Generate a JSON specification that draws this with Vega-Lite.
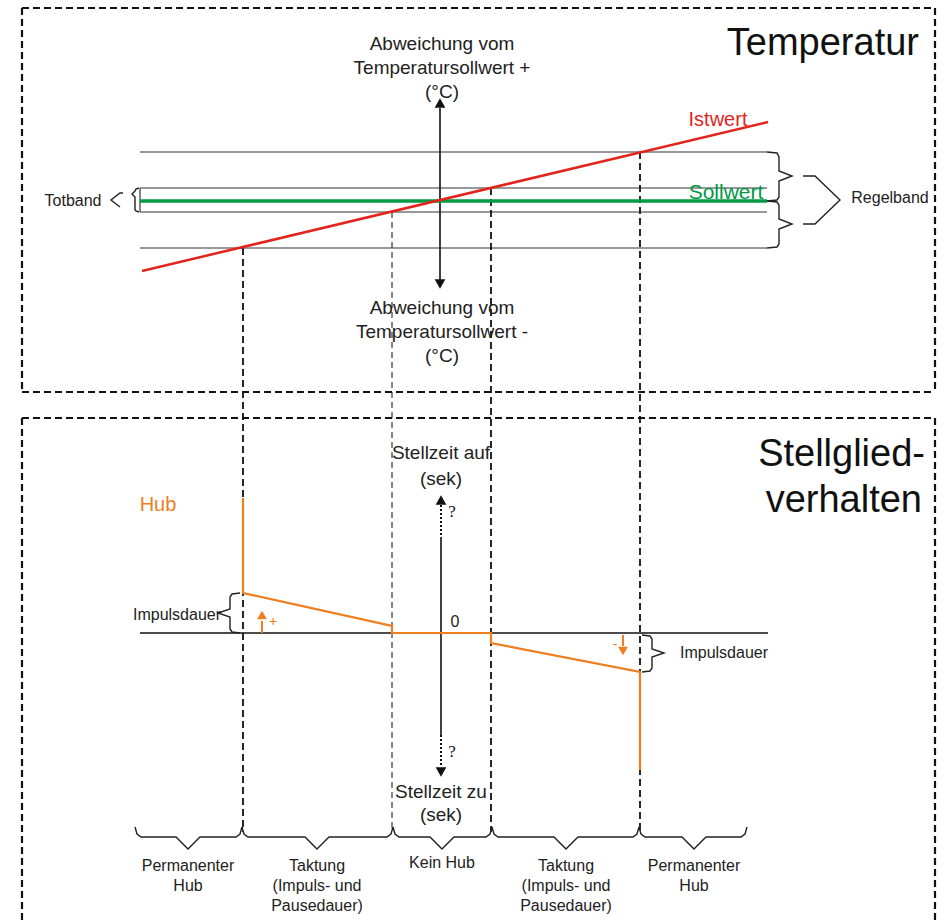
{
  "$schema": "https://vega.github.io/schema/vega-lite/v6.json",
  "width": 946,
  "height": 920,
  "autosize": {"type": "none"},
  "padding": 0,
  "background": "white",
  "view": {"stroke": null},
  "config": {"font": "Liberation Sans"},
  "datasets": {
    "frame": [
      {"x": 22, "y": 8, "x2": 935, "y2": 8},
      {"x": 22, "y": 392, "x2": 935, "y2": 392},
      {"x": 22, "y": 8, "x2": 22, "y2": 392},
      {"x": 935, "y": 8, "x2": 935, "y2": 392},
      {"x": 22, "y": 418, "x2": 935, "y2": 418},
      {"x": 22, "y": 418, "x2": 22, "y2": 920},
      {"x": 935, "y": 418, "x2": 935, "y2": 920}
    ],
    "thin": [
      {"x": 140, "y": 152, "x2": 767, "y2": 152},
      {"x": 140, "y": 188, "x2": 767, "y2": 188},
      {"x": 140, "y": 212, "x2": 767, "y2": 212},
      {"x": 140, "y": 248, "x2": 767, "y2": 248},
      {"x": 140, "y": 188, "x2": 140, "y2": 212}
    ],
    "axes": [
      {"x": 140, "y": 633, "x2": 768, "y2": 633},
      {"x": 440, "y": 108, "x2": 440, "y2": 280},
      {"x": 441, "y": 537, "x2": 441, "y2": 735}
    ],
    "guidesThick": [
      {"x": 243, "y": 248, "x2": 243, "y2": 832},
      {"x": 491, "y": 188, "x2": 491, "y2": 832},
      {"x": 640, "y": 152, "x2": 640, "y2": 832}
    ],
    "guidesThin": [
      {"x": 392, "y": 212, "x2": 392, "y2": 832}
    ],
    "dotted": [
      {"x": 441, "y": 505, "x2": 441, "y2": 537},
      {"x": 441, "y": 735, "x2": 441, "y2": 767}
    ],
    "red": [{"x": 142, "y": 271, "x2": 768, "y2": 122}],
    "green": [{"x": 140, "y": 201, "x2": 767, "y2": 201}],
    "hub": [
      {"o": 1, "x": 243, "y": 498},
      {"o": 2, "x": 243, "y": 593},
      {"o": 3, "x": 392, "y": 626},
      {"o": 4, "x": 392, "y": 633},
      {"o": 5, "x": 491, "y": 633},
      {"o": 6, "x": 491, "y": 643},
      {"o": 7, "x": 640, "y": 672},
      {"o": 8, "x": 640, "y": 770}
    ],
    "orangeShafts": [
      {"x": 262, "y": 621, "x2": 262, "y2": 633},
      {"x": 623, "y": 635, "x2": 623, "y2": 646}
    ],
    "orangeHeads": [
      {"x": 262, "y": 615, "dir": "up"},
      {"x": 623, "y": 651, "dir": "down"}
    ],
    "blackHeads": [
      {"x": 440, "y": 103, "dir": "up"},
      {"x": 440, "y": 284, "dir": "down"},
      {"x": 441, "y": 500, "dir": "up"},
      {"x": 441, "y": 772, "dir": "down"}
    ],
    "braces": [
      {"id": "tb", "o": 1, "x": 139, "y": 188},
      {"id": "tb", "o": 2, "x": 136, "y": 189},
      {"id": "tb", "o": 3, "x": 135, "y": 191},
      {"id": "tb", "o": 4, "x": 132, "y": 194},
      {"id": "tb", "o": 5, "x": 135, "y": 197},
      {"id": "tb", "o": 6, "x": 135, "y": 210},
      {"id": "tb", "o": 7, "x": 136, "y": 211},
      {"id": "tb", "o": 8, "x": 139, "y": 212},
      {"id": "lt", "o": 1, "x": 123, "y": 193},
      {"id": "lt", "o": 2, "x": 120, "y": 193},
      {"id": "lt", "o": 3, "x": 111, "y": 200},
      {"id": "lt", "o": 4, "x": 120, "y": 207},
      {"id": "ru", "o": 1, "x": 767, "y": 152},
      {"id": "ru", "o": 2, "x": 777, "y": 153},
      {"id": "ru", "o": 3, "x": 779, "y": 157},
      {"id": "ru", "o": 4, "x": 779, "y": 171},
      {"id": "ru", "o": 5, "x": 792, "y": 176},
      {"id": "ru", "o": 6, "x": 779, "y": 181},
      {"id": "ru", "o": 7, "x": 779, "y": 197},
      {"id": "ru", "o": 8, "x": 777, "y": 200},
      {"id": "ru", "o": 9, "x": 767, "y": 201},
      {"id": "rl", "o": 1, "x": 767, "y": 201},
      {"id": "rl", "o": 2, "x": 777, "y": 202},
      {"id": "rl", "o": 3, "x": 779, "y": 205},
      {"id": "rl", "o": 4, "x": 779, "y": 219},
      {"id": "rl", "o": 5, "x": 792, "y": 224},
      {"id": "rl", "o": 6, "x": 779, "y": 229},
      {"id": "rl", "o": 7, "x": 779, "y": 244},
      {"id": "rl", "o": 8, "x": 777, "y": 247},
      {"id": "rl", "o": 9, "x": 767, "y": 248},
      {"id": "rg", "o": 1, "x": 803, "y": 176},
      {"id": "rg", "o": 2, "x": 815, "y": 176},
      {"id": "rg", "o": 3, "x": 840, "y": 200},
      {"id": "rg", "o": 4, "x": 815, "y": 224},
      {"id": "rg", "o": 5, "x": 803, "y": 224},
      {"id": "il", "o": 1, "x": 240, "y": 593},
      {"id": "il", "o": 2, "x": 232, "y": 594},
      {"id": "il", "o": 3, "x": 230, "y": 597},
      {"id": "il", "o": 4, "x": 230, "y": 609},
      {"id": "il", "o": 5, "x": 218, "y": 613},
      {"id": "il", "o": 6, "x": 230, "y": 617},
      {"id": "il", "o": 7, "x": 230, "y": 629},
      {"id": "il", "o": 8, "x": 232, "y": 632},
      {"id": "il", "o": 9, "x": 240, "y": 633},
      {"id": "ir", "o": 1, "x": 642, "y": 635},
      {"id": "ir", "o": 2, "x": 650, "y": 636},
      {"id": "ir", "o": 3, "x": 652, "y": 639},
      {"id": "ir", "o": 4, "x": 652, "y": 649},
      {"id": "ir", "o": 5, "x": 664, "y": 653},
      {"id": "ir", "o": 6, "x": 652, "y": 657},
      {"id": "ir", "o": 7, "x": 652, "y": 668},
      {"id": "ir", "o": 8, "x": 650, "y": 671},
      {"id": "ir", "o": 9, "x": 642, "y": 672},
      {"id": "b1", "o": 1, "x": 135, "y": 827},
      {"id": "b1", "o": 2, "x": 137, "y": 834},
      {"id": "b1", "o": 3, "x": 141, "y": 837},
      {"id": "b1", "o": 4, "x": 176, "y": 837},
      {"id": "b1", "o": 5, "x": 188, "y": 849},
      {"id": "b1", "o": 6, "x": 200, "y": 837},
      {"id": "b1", "o": 7, "x": 236, "y": 837},
      {"id": "b1", "o": 8, "x": 240, "y": 834},
      {"id": "b1", "o": 9, "x": 242, "y": 827},
      {"id": "b2", "o": 1, "x": 242, "y": 827},
      {"id": "b2", "o": 2, "x": 244, "y": 834},
      {"id": "b2", "o": 3, "x": 248, "y": 837},
      {"id": "b2", "o": 4, "x": 305, "y": 837},
      {"id": "b2", "o": 5, "x": 317, "y": 849},
      {"id": "b2", "o": 6, "x": 329, "y": 837},
      {"id": "b2", "o": 7, "x": 387, "y": 837},
      {"id": "b2", "o": 8, "x": 391, "y": 834},
      {"id": "b2", "o": 9, "x": 393, "y": 827},
      {"id": "b3", "o": 1, "x": 393, "y": 827},
      {"id": "b3", "o": 2, "x": 395, "y": 834},
      {"id": "b3", "o": 3, "x": 399, "y": 837},
      {"id": "b3", "o": 4, "x": 430, "y": 837},
      {"id": "b3", "o": 5, "x": 442, "y": 849},
      {"id": "b3", "o": 6, "x": 454, "y": 837},
      {"id": "b3", "o": 7, "x": 486, "y": 837},
      {"id": "b3", "o": 8, "x": 490, "y": 834},
      {"id": "b3", "o": 9, "x": 492, "y": 827},
      {"id": "b4", "o": 1, "x": 492, "y": 827},
      {"id": "b4", "o": 2, "x": 494, "y": 834},
      {"id": "b4", "o": 3, "x": 498, "y": 837},
      {"id": "b4", "o": 4, "x": 554, "y": 837},
      {"id": "b4", "o": 5, "x": 566, "y": 849},
      {"id": "b4", "o": 6, "x": 578, "y": 837},
      {"id": "b4", "o": 7, "x": 633, "y": 837},
      {"id": "b4", "o": 8, "x": 637, "y": 834},
      {"id": "b4", "o": 9, "x": 639, "y": 827},
      {"id": "b5", "o": 1, "x": 639, "y": 827},
      {"id": "b5", "o": 2, "x": 641, "y": 834},
      {"id": "b5", "o": 3, "x": 645, "y": 837},
      {"id": "b5", "o": 4, "x": 682, "y": 837},
      {"id": "b5", "o": 5, "x": 694, "y": 849},
      {"id": "b5", "o": 6, "x": 706, "y": 837},
      {"id": "b5", "o": 7, "x": 741, "y": 837},
      {"id": "b5", "o": 8, "x": 745, "y": 834},
      {"id": "b5", "o": 9, "x": 747, "y": 827}
    ],
    "textMid": [
      {"t": "Abweichung vom", "x": 442, "y": 44},
      {"t": "Temperatursollwert +", "x": 442, "y": 68},
      {"t": "(°C)", "x": 442, "y": 92},
      {"t": "Abweichung vom", "x": 442, "y": 308},
      {"t": "Temperatursollwert -", "x": 442, "y": 332},
      {"t": "(°C)", "x": 442, "y": 356},
      {"t": "Stellzeit auf", "x": 441, "y": 453},
      {"t": "(sek)", "x": 441, "y": 479},
      {"t": "Stellzeit zu", "x": 441, "y": 792},
      {"t": "(sek)", "x": 441, "y": 815}
    ],
    "textSmall": [
      {"t": "Totband", "x": 73, "y": 201},
      {"t": "Regelband", "x": 890, "y": 198},
      {"t": "Impulsdauer", "x": 177, "y": 615},
      {"t": "Impulsdauer", "x": 724, "y": 653},
      {"t": "0", "x": 455, "y": 622},
      {"t": "Permanenter", "x": 188, "y": 866},
      {"t": "Hub", "x": 188, "y": 886},
      {"t": "Taktung", "x": 317, "y": 866},
      {"t": "(Impuls- und", "x": 317, "y": 886},
      {"t": "Pausedauer)", "x": 317, "y": 906},
      {"t": "Kein Hub", "x": 442, "y": 863},
      {"t": "Taktung", "x": 566, "y": 866},
      {"t": "(Impuls- und", "x": 566, "y": 886},
      {"t": "Pausedauer)", "x": 566, "y": 906},
      {"t": "Permanenter", "x": 694, "y": 866},
      {"t": "Hub", "x": 694, "y": 886}
    ],
    "titles": [
      {"t": "Temperatur", "x": 919, "y": 55},
      {"t": "Stellglied-", "x": 925, "y": 466},
      {"t": "verhalten", "x": 922, "y": 512}
    ],
    "qmarks": [
      {"t": "?", "x": 452, "y": 512},
      {"t": "?", "x": 452, "y": 752}
    ],
    "ist": [{"t": "Istwert", "x": 718, "y": 120}],
    "soll": [{"t": "Sollwert", "x": 726, "y": 193}],
    "hubLabel": [{"t": "Hub", "x": 158, "y": 505}],
    "signs": [
      {"t": "+", "x": 273, "y": 622},
      {"t": "-", "x": 615, "y": 645}
    ]
  },
  "encoding": {
    "x": {"field": "x", "type": "quantitative", "scale": {"domain": [0, 946], "nice": false, "zero": false}, "axis": null},
    "y": {"field": "y", "type": "quantitative", "scale": {"domain": [0, 920], "nice": false, "zero": false, "reverse": true}, "axis": null}
  },
  "layer": [
    {"data": {"name": "frame"}, "mark": {"type": "rule", "color": "#111", "strokeWidth": 2.2, "strokeDash": [7, 4]}, "encoding": {"x2": {"field": "x2"}, "y2": {"field": "y2"}}},
    {"data": {"name": "thin"}, "mark": {"type": "rule", "color": "#333", "strokeWidth": 1.2}, "encoding": {"x2": {"field": "x2"}, "y2": {"field": "y2"}}},
    {"data": {"name": "guidesThick"}, "mark": {"type": "rule", "color": "#111", "strokeWidth": 1.8, "strokeDash": [7, 4]}, "encoding": {"x2": {"field": "x2"}, "y2": {"field": "y2"}}},
    {"data": {"name": "guidesThin"}, "mark": {"type": "rule", "color": "#111", "strokeWidth": 1, "strokeDash": [6, 4]}, "encoding": {"x2": {"field": "x2"}, "y2": {"field": "y2"}}},
    {"data": {"name": "dotted"}, "mark": {"type": "rule", "color": "#111", "strokeWidth": 2, "strokeDash": [2, 2]}, "encoding": {"x2": {"field": "x2"}, "y2": {"field": "y2"}}},
    {"data": {"name": "axes"}, "mark": {"type": "rule", "color": "#111", "strokeWidth": 1.6}, "encoding": {"x2": {"field": "x2"}, "y2": {"field": "y2"}}},
    {"data": {"name": "green"}, "mark": {"type": "rule", "color": "#009a44", "strokeWidth": 3.5}, "encoding": {"x2": {"field": "x2"}, "y2": {"field": "y2"}}},
    {"data": {"name": "red"}, "mark": {"type": "rule", "color": "#e2241c", "strokeWidth": 2.5}, "encoding": {"x2": {"field": "x2"}, "y2": {"field": "y2"}}},
    {"data": {"name": "braces"}, "mark": {"type": "line", "color": "#222", "strokeWidth": 1.4, "interpolate": "linear"}, "encoding": {"detail": {"field": "id"}, "order": {"field": "o", "type": "quantitative"}}},
    {"data": {"name": "hub"}, "mark": {"type": "line", "color": "#f07d1e", "strokeWidth": 2.2}, "encoding": {"order": {"field": "o", "type": "quantitative"}}},
    {"data": {"name": "orangeShafts"}, "mark": {"type": "rule", "color": "#f07d1e", "strokeWidth": 2}, "encoding": {"x2": {"field": "x2"}, "y2": {"field": "y2"}}},
    {"data": {"name": "orangeHeads"}, "mark": {"type": "point", "filled": true, "color": "#f07d1e", "size": 95, "opacity": 1}, "encoding": {"shape": {"field": "dir", "type": "nominal", "scale": {"domain": ["up", "down"], "range": ["triangle-up", "triangle-down"]}, "legend": null}}},
    {"data": {"name": "blackHeads"}, "mark": {"type": "point", "filled": true, "color": "#111", "size": 115, "opacity": 1}, "encoding": {"shape": {"field": "dir", "type": "nominal", "scale": {"domain": ["up", "down"], "range": ["triangle-up", "triangle-down"]}, "legend": null}}},
    {"data": {"name": "textMid"}, "mark": {"type": "text", "fontSize": 19, "color": "#222", "align": "center", "baseline": "middle"}, "encoding": {"text": {"field": "t"}}},
    {"data": {"name": "textSmall"}, "mark": {"type": "text", "fontSize": 16, "color": "#222", "align": "center", "baseline": "middle"}, "encoding": {"text": {"field": "t"}}},
    {"data": {"name": "titles"}, "mark": {"type": "text", "fontSize": 38, "color": "#111", "align": "right", "baseline": "alphabetic"}, "encoding": {"text": {"field": "t"}}},
    {"data": {"name": "qmarks"}, "mark": {"type": "text", "fontSize": 17, "font": "Liberation Serif", "color": "#111", "align": "center", "baseline": "middle"}, "encoding": {"text": {"field": "t"}}},
    {"data": {"name": "ist"}, "mark": {"type": "text", "fontSize": 20, "color": "#e2241c", "align": "center", "baseline": "middle"}, "encoding": {"text": {"field": "t"}}},
    {"data": {"name": "soll"}, "mark": {"type": "text", "fontSize": 21, "color": "#009a44", "align": "center", "baseline": "middle"}, "encoding": {"text": {"field": "t"}}},
    {"data": {"name": "hubLabel"}, "mark": {"type": "text", "fontSize": 20, "color": "#f07d1e", "align": "center", "baseline": "middle"}, "encoding": {"text": {"field": "t"}}},
    {"data": {"name": "signs"}, "mark": {"type": "text", "fontSize": 14, "color": "#f07d1e", "align": "center", "baseline": "middle"}, "encoding": {"text": {"field": "t"}}}
  ]
}
